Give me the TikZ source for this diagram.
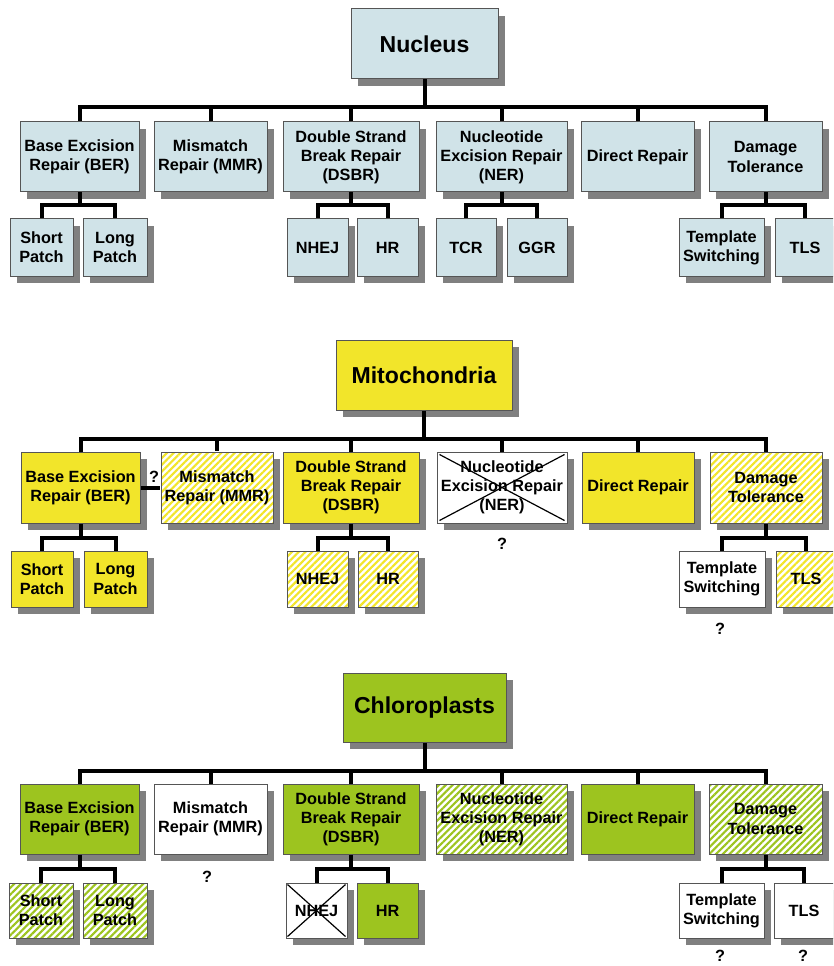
\documentclass[tikz,border=0pt]{standalone}
\usepackage{fontspec}
\setmainfont{Liberation Sans}
\usetikzlibrary{patterns.meta,calc}
\definecolor{nucc}{RGB}{208,227,232}
\definecolor{yelc}{RGB}{242,229,42}
\definecolor{grnc}{RGB}{157,196,31}
\definecolor{shadc}{RGB}{128,128,128}
\definecolor{bordc}{RGB}{85,85,85}
\tikzset{
  box/.style={draw=bordc, line width=0.75pt, inner sep=1pt, align=center,
    font=\bfseries\fontsize{12.2}{14.3}\selectfont, text=black},
  ttl/.style={font=\bfseries\fontsize{17.3}{20}\selectfont},
  fillc/.style={fill=#1},
  hatch/.style={preaction={fill=white}, pattern={Lines[angle=45,distance=3.6pt,line width=1.6pt]}, pattern color=#1},
  conn/.style={line width=3pt, black},
  crossln/.style={line width=0.9pt, black},
  qm/.style={font=\bfseries\fontsize{12.2}{14.3}\selectfont, inner sep=0pt}
}
\newcommand\bx[7]{%
  \fill[shadc] ({#2+7},{#3+7}) rectangle ({#4+7},{#5+7});
  \node[box,#6,minimum width={(#4-#2)*0.75pt},minimum height={(#5-#3)*0.75pt}] (#1) at ({(#2+#4)/2},{(#3+#5)/2}) {#7};
}
\begin{document}
\begin{tikzpicture}[x=0.75pt,y=-0.75pt]
\useasboundingbox (0,0) rectangle (833,966);
\clip (0,0) rectangle (833,966);
\fill[white] (0,0) rectangle (833,966);

% ---------------- Nucleus ----------------
\bx{nT}{351}{9}{498}{79}{fillc=nucc,ttl}{Nucleus}
\bx{nBER}{20}{122}{139}{192}{fillc=nucc}{Base Excision\\Repair (BER)}
\bx{nMMR}{154}{122}{267}{192}{fillc=nucc}{Mismatch\\Repair (MMR)}
\bx{nDSBR}{283}{122}{419}{192}{fillc=nucc}{Double Strand\\Break Repair\\(DSBR)}
\bx{nNER}{436}{122}{567}{192}{fillc=nucc}{Nucleotide\\Excision Repair\\(NER)}
\bx{nDR}{581}{122}{694}{192}{fillc=nucc}{Direct Repair}
\bx{nDT}{709}{122}{822}{192}{fillc=nucc}{Damage\\Tolerance}
\bx{nSP}{10}{219}{73}{276}{fillc=nucc}{Short\\Patch}
\bx{nLP}{83}{219}{147}{276}{fillc=nucc}{Long\\Patch}
\bx{nNHEJ}{287}{219}{348}{276}{fillc=nucc}{NHEJ}
\bx{nHR}{357}{219}{418}{276}{fillc=nucc}{HR}
\bx{nTCR}{436}{219}{496}{276}{fillc=nucc}{TCR}
\bx{nGGR}{507}{219}{567}{276}{fillc=nucc}{GGR}
\bx{nTS}{679}{219}{764}{276}{fillc=nucc}{Template\\Switching}
\bx{nTLS}{775}{219}{835}{276}{fillc=nucc}{TLS}

\draw[conn] (nT.south) -- ++(0,28) coordinate (nj);
\foreach \c in {nBER,nMMR,nDSBR,nNER,nDR,nDT} \draw[conn] (nj) -| (\c.north);
\draw[conn] (nBER.south) -- ++(0,13) coordinate (nbj);
\foreach \c in {nSP,nLP} \draw[conn] (nbj) -| (\c.north);
\draw[conn] (nDSBR.south) -- ++(0,13) coordinate (ndj);
\foreach \c in {nNHEJ,nHR} \draw[conn] (ndj) -| (\c.north);
\draw[conn] (nNER.south) -- ++(0,13) coordinate (nnj);
\foreach \c in {nTCR,nGGR} \draw[conn] (nnj) -| (\c.north);
\draw[conn] (nDT.south) -- ++(0,13) coordinate (ntj);
\foreach \c in {nTS,nTLS} \draw[conn] (ntj) -| (\c.north);

% ---------------- Mitochondria ----------------
\bx{mT}{336}{340}{512}{410}{fillc=yelc,ttl}{Mitochondria}
\bx{mBER}{21}{452}{140}{523}{fillc=yelc}{Base Excision\\Repair (BER)}
\bx{mMMR}{161}{452}{273}{523}{hatch=yelc}{Mismatch\\Repair (MMR)}
\bx{mDSBR}{283}{452}{419}{523}{fillc=yelc}{Double Strand\\Break Repair\\(DSBR)}
\bx{mNER}{437}{452}{567}{523}{fillc=white}{Nucleotide\\Excision Repair\\(NER)}
\bx{mDR}{582}{452}{694}{523}{fillc=yelc}{Direct Repair}
\bx{mDT}{710}{452}{822}{523}{hatch=yelc}{Damage\\Tolerance}
\bx{mSP}{11}{551}{73}{607}{fillc=yelc}{Short\\Patch}
\bx{mLP}{84}{551}{147}{607}{fillc=yelc}{Long\\Patch}
\bx{mNHEJ}{287}{551}{348}{607}{hatch=yelc}{NHEJ}
\bx{mHR}{358}{551}{418}{607}{hatch=yelc}{HR}
\bx{mTS}{679}{551}{765}{607}{fillc=white}{Template\\Switching}
\bx{mTLS}{776}{551}{836}{607}{hatch=yelc}{TLS}
\draw[crossln] ([shift={(3,3)}]mNER.north west) -- ([shift={(-3,-3)}]mNER.south east);
\draw[crossln] ([shift={(3,-3)}]mNER.south west) -- ([shift={(-3,3)}]mNER.north east);

\draw[conn] (mT.south) -- ++(0,28) coordinate (mj);
\foreach \c in {mBER,mMMR,mDSBR,mNER,mDR,mDT} \draw[conn] (mj) -| (\c.north);
\draw[conn] (mBER.south) -- ++(0,14) coordinate (mbj);
\foreach \c in {mSP,mLP} \draw[conn] (mbj) -| (\c.north);
\draw[conn] (mDSBR.south) -- ++(0,14) coordinate (mdj);
\foreach \c in {mNHEJ,mHR} \draw[conn] (mdj) -| (\c.north);
\draw[conn] (mDT.south) -- ++(0,14) coordinate (mtj);
\foreach \c in {mTS,mTLS} \draw[conn] (mtj) -| (\c.north);
\draw[conn] (mBER.east) -- (mMMR.west);
\node[qm] (mq1) at (154,477) {?};
\node[qm] (mq2) at (502,544) {?};
\node[qm] (mq3) at (720,629) {?};

% ---------------- Chloroplasts ----------------
\bx{cT}{343}{673}{506}{742}{fillc=grnc,ttl}{Chloroplasts}
\bx{cBER}{20}{784}{139}{854}{fillc=grnc}{Base Excision\\Repair (BER)}
\bx{cMMR}{154}{784}{267}{854}{fillc=white}{Mismatch\\Repair (MMR)}
\bx{cDSBR}{283}{784}{419}{854}{fillc=grnc}{Double Strand\\Break Repair\\(DSBR)}
\bx{cNER}{436}{784}{567}{854}{hatch=grnc}{Nucleotide\\Excision Repair\\(NER)}
\bx{cDR}{581}{784}{694}{854}{fillc=grnc}{Direct Repair}
\bx{cDT}{709}{784}{822}{854}{hatch=grnc}{Damage\\Tolerance}
\bx{cSP}{9}{883}{73}{938}{hatch=grnc}{Short\\Patch}
\bx{cLP}{83}{883}{147}{938}{hatch=grnc}{Long\\Patch}
\bx{cNHEJ}{286}{883}{347}{938}{fillc=white}{NHEJ}
\bx{cHR}{357}{883}{418}{938}{fillc=grnc}{HR}
\bx{cTS}{679}{883}{764}{938}{fillc=white}{Template\\Switching}
\bx{cTLS}{774}{883}{834}{938}{fillc=white}{TLS}
\draw[crossln] ([shift={(2,2)}]cNHEJ.north west) -- ([shift={(-2,-2)}]cNHEJ.south east);
\draw[crossln] ([shift={(2,-2)}]cNHEJ.south west) -- ([shift={(-2,2)}]cNHEJ.north east);

\draw[conn] (cT.south) -- ++(0,28) coordinate (cj);
\foreach \c in {cBER,cMMR,cDSBR,cNER,cDR,cDT} \draw[conn] (cj) -| (\c.north);
\draw[conn] (cBER.south) -- ++(0,14) coordinate (cbj);
\foreach \c in {cSP,cLP} \draw[conn] (cbj) -| (\c.north);
\draw[conn] (cDSBR.south) -- ++(0,14) coordinate (cdj);
\foreach \c in {cNHEJ,cHR} \draw[conn] (cdj) -| (\c.north);
\draw[conn] (cDT.south) -- ++(0,14) coordinate (ctj);
\foreach \c in {cTS,cTLS} \draw[conn] (ctj) -| (\c.north);
\node[qm] (cq1) at (207,877) {?};
\node[qm] (cq2) at (720,956) {?};
\node[qm] (cq3) at (803,956) {?};
\end{tikzpicture}
\end{document}
